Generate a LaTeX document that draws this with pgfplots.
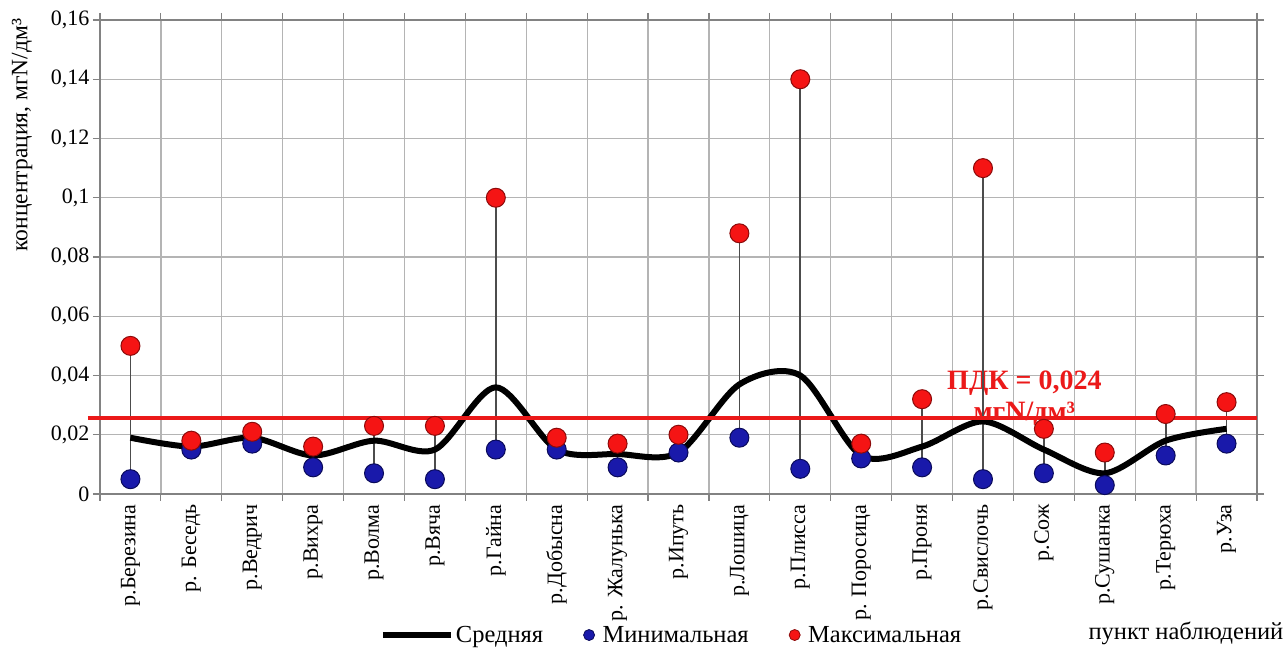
\documentclass[border=0pt]{standalone}
\usepackage{fontspec}
\setmainfont{Liberation Serif}
\usepackage{pgfplots}
\usepackage{pgfplotstable}
\pgfplotsset{compat=1.18}
\definecolor{gridgray}{RGB}{180,180,180}
\definecolor{axgray}{RGB}{130,130,130}
\definecolor{mred}{RGB}{245,20,20}
\definecolor{mredd}{RGB}{140,10,10}
\definecolor{mblue}{RGB}{25,25,170}
\definecolor{mblued}{RGB}{10,10,90}
\definecolor{pdk}{RGB}{235,25,25}
\pgfplotstableread{
x min max mean
0 0.005 0.050 0.019
1 0.015 0.018 0.016
2 0.017 0.021 0.019
3 0.009 0.016 0.013
4 0.007 0.023 0.018
5 0.005 0.023 0.015
6 0.015 0.100 0.036
7 0.015 0.019 0.015
8 0.009 0.017 0.0135
9 0.014 0.020 0.014
10 0.019 0.088 0.037
11 0.0085 0.140 0.040
12 0.012 0.017 0.013
13 0.009 0.032 0.016
14 0.005 0.110 0.0245
15 0.007 0.022 0.015
16 0.003 0.014 0.007
17 0.013 0.027 0.018
18 0.017 0.031 0.022
}\data
\pgfplotstableread{
x y
-0.7 0.0255
18.5 0.0255
}\pdkline
\newcommand{\fs}{\fontsize{22}{25}\selectfont}
\newcommand{\fl}{\fontsize{24.5}{28}\selectfont}
\begin{document}
\begin{tikzpicture}
\useasboundingbox (-100pt,-156pt) rectangle (1186pt,494pt);
\begin{axis}[
  at={(0pt,0pt)}, anchor=south west,
  scale only axis, width=1157pt, height=474pt,
  xmin=-0.5, xmax=18.5, ymin=0, ymax=0.16,
  clip=false,
  axis line style={axgray, line width=1.2pt},
  xtick={0,...,18},
  xticklabels={р.Березина,р. Беседь,р.Ведрич,р.Вихра,р.Волма,р.Вяча,р.Гайна,р.Добысна,р. Жалунька,р.Ипуть,р.Лошица,р.Плисса,р. Поросица,р.Проня,р.Свислочь,р.Сож,р.Сушанка,р.Терюха,р.Уза},
  minor xtick={-0.5,0.5,...,18.5},
  every major x tick/.style={draw=none},
  xminorgrids=true, ymajorgrids=true,
  grid style={gridgray, line width=1.3pt},
  minor grid style={gridgray, line width=1.3pt},
  tick align=outside,
  major tick length=7pt, minor tick length=7pt,
  tick style={axgray, line width=1.2pt},
  ytick={0,0.02,0.04,0.06,0.08,0.1,0.12,0.14,0.16},
  scaled y ticks=false,
  yticklabel style={/pgf/number format/.cd, use comma, fixed, precision=2, assume math mode=true},
  tick label style={font=\fs},
  xticklabel style={rotate=90, anchor=east, yshift=0pt},
  ylabel={концентрация, мгN/дм³},
  ylabel style={at={(axis description cs:-0.0674,0.757)}, anchor=center, rotate=0, font=\fontsize{23.5}{27}\selectfont},
  xlabel={пункт наблюдений},
  xlabel style={at={(axis description cs:0.9386,-0.293)}, anchor=center, font=\fl},
  legend columns=3,
  legend style={draw=none, fill=none, at={(axis description cs:0.494,-0.2975)}, anchor=center, font=\fl,
    /tikz/every even column/.append style={column sep=38pt}},
]
\node[text=pdk, font=\fontsize{28}{31}\selectfont\bfseries, align=center] at (axis cs:14.68,0.0325) {ПДК = 0,024\\мгN/дм³};
\addplot[only marks, mark=none, color=black!70, forget plot,
  error bars/.cd, y dir=minus, y explicit, error mark=none,
  error bar style={line width=1.7pt, black!70}]
  table[x=x, y=max, y error expr=\thisrow{max}-\thisrow{min}] {\data};
\addplot[black, line width=6pt, smooth, mark=none,
  legend image code/.code={\draw[black, line width=6pt] (0pt,0pt) -- (68pt,0pt);}]
  table[x=x, y=mean] {\data};
\addlegendentry{Средняя}
\addplot[pdk, line width=4pt, forget plot] table[x=x, y=y] {\pdkline};
\addplot[only marks, mark=*, mark size=9.5pt, mark options={fill=mblue, draw=mblued, line width=1pt},
  legend image code/.code={\path[draw=none, fill=none] (0pt,-5pt) rectangle (17pt,5pt); \draw[fill=mblue, draw=mblued, line width=0.8pt] (5.5pt,0pt) circle (5.5pt);}]
  table[x=x, y=min] {\data};
\addlegendentry{Минимальная}
\addplot[only marks, mark=*, mark size=9.5pt, mark options={fill=mred, draw=mredd, line width=1pt},
  legend image code/.code={\path[draw=none, fill=none] (0pt,-5pt) rectangle (17pt,5pt); \draw[fill=mred, draw=mredd, line width=0.8pt] (5.5pt,0pt) circle (5.5pt);}]
  table[x=x, y=max] {\data};
\addlegendentry{Максимальная}
\end{axis}
\end{tikzpicture}
\end{document}
